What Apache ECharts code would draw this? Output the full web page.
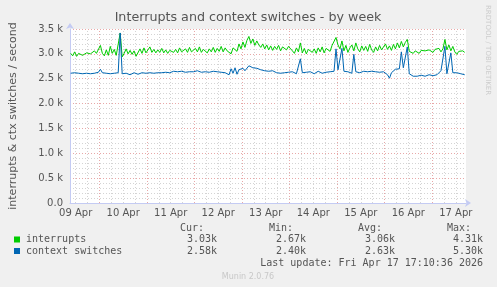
<!DOCTYPE html>
<html><head><meta charset="utf-8">
<script src="https://cdn.jsdelivr.net/npm/echarts@6/dist/echarts.min.js"></script>
<style>html,body{margin:0;padding:0;background:#f0f0f0}#c{width:497px;height:287px}</style>
</head><body><div id="c"></div>
<script>
// time axis in hours after 09 Apr 00:00
const sampleStart = 9.5;
const sampleStep = 1;
const viewStart = 9.15;
const viewEnd = 209.15;
const dayLabels = ['09 Apr','10 Apr','11 Apr','12 Apr','13 Apr','14 Apr','15 Apr','16 Apr','17 Apr'];

const interrupts = [
3010,2960,3040,2950,3010,3050,2970,2930,3020,3050,
3000,2970,3060,3010,3040,3170,3010,2960,3080,2970,
3150,3010,3090,2970,2950,3420,2940,3010,3100,3000,
3070,2990,3060,2950,2910,3100,3010,3120,3020,3080,
3140,3030,3090,3020,3080,3030,3110,3020,3080,3010,
3070,3100,3030,3090,3020,3120,3040,3010,3100,3030,
3130,3040,3020,3110,3040,3140,3030,3090,3120,3020,
3100,3040,3130,3030,3110,3050,3150,3040,3120,3060,
3030,3000,3120,3160,3050,3200,3100,3240,3130,3270,
3350,3210,3300,3170,3260,3180,3130,3200,3100,3180,
3080,3160,3070,3150,3090,3170,3060,3140,3160,3080,
3150,3180,3060,3010,3120,3040,3220,3020,3110,3000,
3090,3130,3030,3100,3010,3120,3040,3140,3020,3110,
3130,3050,3170,3200,3330,3180,3100,3260,3060,3170,
3030,3120,3180,3060,3220,3100,3040,3160,3070,3150,
3050,3190,3080,3030,3140,3060,3170,3080,3040,3200,
3090,3160,3070,3190,3100,3220,3120,3250,3140,3230,
3290,3050,3030,3010,3060,3030,3010,3070,3030,3060,
3020,3080,3040,3030,3090,3050,3110,3040,3100,3290,
3080,3180,3060,3150,3040,2990,3050,3010,3060,3030
];
const ctxSwitches = [
2610,2600,2620,2590,2610,2630,2600,2620,2610,2590,
2600,2620,2610,2600,2630,2690,2620,2600,2610,2630,
2600,2590,2610,2600,2620,3420,2600,2590,2610,2600,
2580,2610,2620,2600,2590,2610,2620,2600,2610,2630,
2620,2600,2610,2630,2620,2640,2620,2610,2630,2640,
2620,2630,2650,2630,2640,2620,2650,2640,2630,2650,
2640,2620,2640,2630,2660,2640,2630,2650,2640,2620,
2630,2640,2650,2620,2640,2660,2630,2650,2620,2640,
2580,2700,2610,2720,2590,2680,2640,2710,2660,2690,
2760,2740,2720,2750,2710,2700,2680,2690,2660,2670,
2650,2640,2660,2630,2620,2640,2610,2630,2620,2600,
2630,2610,2640,2620,2600,2630,2900,2620,2600,2630,
2610,2640,2620,2600,2630,2650,2620,2610,2640,2630,
2660,2640,2620,2650,3100,2680,2640,3110,2650,2630,
2640,2620,2610,2990,2640,2630,2620,2640,2650,2660,
2640,2630,2650,2670,2640,2660,2630,2650,2640,2620,
2580,2510,2620,2660,2690,2670,2700,3040,2720,2700,
3140,2600,2560,2550,2560,2550,2560,2570,2560,2550,
2560,2580,2570,2560,2590,2580,2620,2660,2640,3150,
2600,2610,3020,2620,2650,2620,2640,2600,2630,2580
];

const seriesNames = ['interrupts','context switches'];
const legendHeaders = ['Cur:','Min:','Avg:','Max:'];
const legendValues = [
  ['3.03k','2.67k','3.06k','4.31k'],
  ['2.58k','2.40k','2.63k','5.30k']
];
const lastUpdate = 'Last update: Fri Apr 17 17:10:36 2026';

const colors = ['#00CC00','#0066B3'];
const toPairs = arr => arr.map((v,i)=>[sampleStart + i*sampleStep, v]);

const gridLines = [];
for (let h = Math.ceil(viewStart/6)*6; h <= viewEnd; h += 6) {
  const major = h % 24 === 0;
  gridLines.push({xAxis: h, lineStyle: {color: major ? '#e8a8a8' : '#d4d4d4', type: [1,2], width: 1}});
}
const labelHours = dayLabels.map((d,i)=> i*24 + 12);

const mono = '10px "DejaVu Sans Mono", monospace';
const txtColor = '#555';
const graphics = [];
const hdrX = [204, 293, 382, 471];
const valX = [217, 306, 395, 483];
legendHeaders.forEach((t,i)=>graphics.push({type:'text', style:{text:t, x:hdrX[i], y:228, font:mono, fill:txtColor, align:'right', verticalAlign:'middle'}}));
seriesNames.forEach((n,r)=>{
  const y = 239.5 + r*11.5;
  graphics.push({type:'rect', shape:{x:14, y:y-3, width:6, height:6}, style:{fill:colors[r]}});
  graphics.push({type:'text', style:{text:n, x:26, y:y, font:mono, fill:txtColor, align:'left', verticalAlign:'middle'}});
  legendValues[r].forEach((v,i)=>graphics.push({type:'text', style:{text:v, x:valX[i], y:y, font:mono, fill:txtColor, align:'right', verticalAlign:'middle'}}));
});
graphics.push({type:'text', style:{text:lastUpdate, x:483, y:263.5, font:mono, fill:txtColor, align:'right', verticalAlign:'middle'}});
graphics.push({type:'text', style:{text:'Munin 2.0.76', x:248, y:277, font:'8px "DejaVu Sans", sans-serif', fill:'#c8c8c8', align:'center', verticalAlign:'middle'}});
graphics.push({type:'text', rotation:-Math.PI/2, x:488, y:5, style:{text:'RRDTOOL / TOBI OETIKER', x:0, y:0, font:'7px "DejaVu Sans", sans-serif', fill:'#cccccc', align:'left', verticalAlign:'middle'}});
graphics.push({type:'text', style:{text:'Interrupts and context switches - by week', x:248, y:18, font:'12.7px "DejaVu Sans", sans-serif', fill:'#555', align:'center', verticalAlign:'middle'}});

const chart = echarts.init(document.getElementById('c'), null, {renderer:'canvas'});
chart.setOption({
  animation: false,
  backgroundColor: '#f0f0f0',
  grid: {left:66, right:31, top:29, bottom:84, show:true, backgroundColor:'#ffffff', borderWidth:0},
  xAxis: {
    type:'value', min:viewStart, max:viewEnd,
    axisLine:{show:true, lineStyle:{color:'#c4cbf3', width:1}, symbol:['none','arrow'], symbolSize:[6,6], symbolOffset:[0,5]},
    axisTick:{show:false, customValues: labelHours},
    splitLine:{show:false},
    axisLabel:{customValues: labelHours, formatter: v => dayLabels[Math.round((v-12)/24)], color:txtColor, fontSize:10, fontFamily:'DejaVu Sans', margin:5, showMinLabel:true, showMaxLabel:true}
  },
  yAxis: {
    type:'value', min:0, max:3500, interval:500,
    name:'interrupts & ctx switches / second', nameLocation:'middle', nameGap:51, nameRotate:90,
    nameTextStyle:{color:txtColor, fontSize:11, fontFamily:'DejaVu Sans'},
    axisLine:{show:true, lineStyle:{color:'#c4cbf3', width:1}, symbol:['none','arrow'], symbolSize:[6,6], symbolOffset:[0,6]},
    axisTick:{show:false},
    axisLabel:{formatter: v => v===0 ? '0.0' : (v/1000).toFixed(1)+' k', color:txtColor, fontSize:10, fontFamily:'DejaVu Sans', margin:7},
    splitLine:{show:true, lineStyle:{color:'#e8a8a8', type:[1,2], width:1}},
    minorTick:{show:false, splitNumber:5},
    minorSplitLine:{show:true, lineStyle:{color:'#d4d4d4', type:[1,2], width:1}}
  },
  graphic: graphics,
  series: [
    {type:'line', data:[], z:1, silent:true,
     markLine:{silent:true, z:1, symbol:['none','none'], label:{show:false}, animation:false, data:gridLines}},
    {name:seriesNames[0], type:'line', data:toPairs(interrupts), showSymbol:false, z:10,
     lineStyle:{color:colors[0], width:1}, itemStyle:{color:colors[0]}},
    {name:seriesNames[1], type:'line', data:toPairs(ctxSwitches), showSymbol:false, z:11,
     lineStyle:{color:colors[1], width:1}, itemStyle:{color:colors[1]}}
  ]
});
</script></body></html>
